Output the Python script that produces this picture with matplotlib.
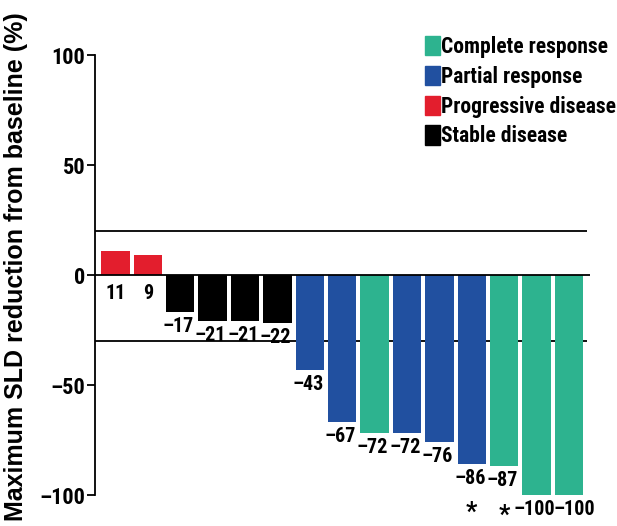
""" Waterfall plot of best response """

# imports
import matplotlib
matplotlib.use('Agg')
import matplotlib.pyplot as plt
from matplotlib.patches import Patch

# data
values = [11, 9, -17, -21, -21, -22, -43, -67, -72, -72, -76, -86, -87, -100, -100]
responses = ['PD', 'PD', 'SD', 'SD', 'SD', 'SD', 'PR', 'PR', 'CR', 'PR', 'PR', 'PR', 'CR', 'CR', 'CR']
starred = [11, 12]
legendLabels = ['Complete response', 'Partial response', 'Progressive disease', 'Stable disease']
legendKeys = ['CR', 'PR', 'PD', 'SD']
yTicks = [100, 50, 0, -50, -100]
refLines = [20, -30]

colors = {'CR': '#2db38f', 'PR': '#2150a0', 'PD': '#e31e2d', 'SD': '#000000'}
narrow = ['Roboto Condensed', 'Archivo Narrow', 'Barlow Condensed', 'DejaVu Sans']

# figure
fig = plt.figure(figsize=(6.17, 5.26), dpi=100)
ax = fig.add_axes([95/617, 31/526, 495/617, 440/526])

xs = list(range(len(values)))
ax.bar(xs, values, width=0.88, color=[colors[r] for r in responses], zorder=3)

# reference lines
ax.axhline(0, color='black', lw=1.3, zorder=4)
for yv in refLines:
	ax.hlines(yv, -0.63, 14.55, color='black', lw=1.3, zorder=2)

# value labels (last one nudged right so the two -100s don't collide)
for x, v in zip(xs, values):
	base = 0 if v > 0 else v
	dx = 0 if v > 0 else -2
	if x == xs[-1]:
		dx = 5
	ax.annotate(f'{v}'.replace('-', '\u2013'), (x, base), xytext=(dx, -9 if v > 0 else -5),
		textcoords='offset pixels', ha='center', va='top', fontsize=14.5,
		fontweight='bold', family=narrow)
for i in starred:
	ax.annotate('*', (xs[i], values[i]), xytext=(0, -37), textcoords='offset pixels',
		ha='center', va='top', fontsize=18, fontweight='bold', family=narrow)

# axes
ax.set_xlim(-0.63, 14.65)
ax.set_ylim(-100, 100)
ax.set_yticks(yTicks)
ax.set_yticklabels([str(t).replace('-', '\u2013') for t in yTicks], fontsize=16,
	fontweight='bold', family=narrow)
ax.tick_params(axis='y', length=6, width=1.3, pad=1)
ax.set_xticks([])
for s in ['top', 'right', 'bottom']:
	ax.spines[s].set_visible(False)
ax.spines['left'].set_linewidth(1.3)
ax.set_ylabel('Maximum SLD reduction from baseline (%)', fontsize=18,
	fontweight='bold', family=['Liberation Sans', 'DejaVu Sans'])
ax.yaxis.set_label_coords(-0.135, 0.52)

# legend
handles = [Patch(color=colors[k]) for k in legendKeys]
ax.legend(handles, legendLabels, loc='upper left', bbox_to_anchor=(425/617, 1 - 36/526),
	bbox_transform=fig.transFigure, frameon=False, handlelength=0.7, handleheight=1.0,
	handletextpad=0.05, labelspacing=0.36, borderpad=0, borderaxespad=0,
	prop={'family': narrow, 'size': 15.5, 'weight': 'bold'})

# cut-off title
fig.text(0.425, 1 - 4/526, 'n = 15', color='#2150a0', fontsize=18, fontweight='bold',
	ha='center', va='bottom', family=narrow)

fig.savefig('out.png', dpi=100)
